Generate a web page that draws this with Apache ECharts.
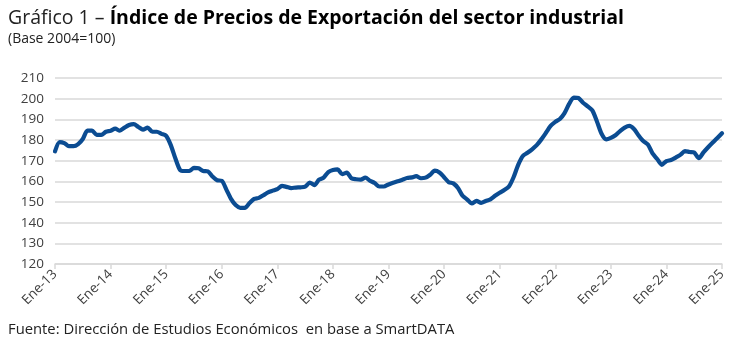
<!DOCTYPE html>
<html>
<head>
<meta charset="utf-8">
<script src="https://cdn.jsdelivr.net/npm/echarts@6/dist/echarts.min.js"></script>
<style>
html,body{margin:0;padding:0;background:#fff;}
#c{width:730px;height:345px;}
</style>
</head>
<body>
<div id="c"></div>
<script>
const monthNames = ['Ene','Feb','Mar','Abr','May','Jun','Jul','Ago','Sep','Oct','Nov','Dic'];
const years = ['13','14','15','16','17','18','19','20','21','22','23','24','25'];
const categories = [];
years.forEach(function(y, yi){
  monthNames.forEach(function(m, mi){
    if (yi < years.length - 1 || mi === 0) categories.push(m + '-' + y);
  });
});
const indexValues = [
  174.5,179,178.5,177,177,178,180.5,184.5,184.5,182.5,182.5,184,
  184.5,185.5,184.5,186,187.3,187.7,186.3,185,186,184,184,183,
  182,177.5,171,165.5,165,165,166.5,166.3,165,164.8,162.3,160.5,
  160.3,156,151.5,148.5,147.2,147.2,149.5,151.5,152,153.3,154.7,155.5,
  156.2,157.8,157.3,156.7,157,157.1,157.4,159.4,158.2,160.8,161.8,164.5,
  165.5,165.8,163.5,164.2,161.5,161,160.8,161.8,160.3,159.2,157.5,157.5,
  158.5,159.3,160,160.8,161.6,161.9,162.5,161.5,161.8,163.2,165.2,164.3,
  162,159.6,159,156.8,153,151.2,149.3,150.5,149.6,150.5,151.3,153,
  154.5,155.8,157.5,162,168,172.3,173.8,175.5,177.5,180.3,183.5,186.8,
  188.8,190.2,193,197.5,200.5,200.3,198,196.3,194.3,189,183,180.3,
  181,182.3,184.3,186,186.8,185.3,182.2,179.5,177.8,173.5,170.8,168,
  169.8,170.3,171.5,172.8,174.6,174.2,173.9,171.2,174,176.5,178.8,181,
  183.3
];
const yTicks = {min:120, max:210, step:10};
const titlePlain = 'Gráfico 1 – ';
const titleBold = 'Índice de Precios de Exportación del sector industrial';
const subtitle = '(Base 2004=100)';
const source = 'Fuente: Dirección de Estudios Económicos  en base a SmartDATA';

const FONT = '"Open Sans", sans-serif';
const chart = echarts.init(document.getElementById('c'), null, {renderer:'canvas'});
chart.setOption({
  backgroundColor:'#ffffff',
  animation:false,
  title:[{
    text:'{a|' + titlePlain + '}{b|' + titleBold + '}',
    left:3, top:3,
    textStyle:{
      rich:{
        a:{fontFamily:FONT, fontSize:19.5, fontWeight:'normal', color:'#222'},
        b:{fontFamily:FONT, fontSize:19.5, fontWeight:'bold', color:'#000'}
      }
    }
  },{
    text:subtitle, left:3, top:27,
    textStyle:{fontFamily:FONT, fontSize:14, fontWeight:'normal', color:'#222'}
  },{
    text:source, left:3, top:317,
    textStyle:{fontFamily:FONT, fontSize:14.8, fontWeight:'normal', color:'#222'}
  }],
  grid:{left:55, right:8, top:78, bottom:81, containLabel:false},
  xAxis:{
    type:'category',
    data:categories,
    boundaryGap:false,
    axisLine:{lineStyle:{color:'#d9d9d9', width:1.5}},
    axisTick:{show:true, length:5, lineStyle:{color:'#d9d9d9', width:1.5},
      interval:function(i){return i % 12 === 0;}},
    axisLabel:{rotate:45, interval:function(i){return i % 12 === 0;},
      fontFamily:FONT, fontSize:13.5, color:'#404040', margin:8},
    splitLine:{show:false}
  },
  yAxis:{
    type:'value',
    min:yTicks.min, max:yTicks.max, interval:yTicks.step,
    axisLine:{show:false},
    axisTick:{show:false},
    axisLabel:{fontFamily:FONT, fontSize:13.5, color:'#404040', margin:11},
    splitLine:{lineStyle:{color:'#d9d9d9', width:1.5}}
  },
  series:[{
    type:'line',
    data:indexValues,
    showSymbol:false,
    smooth:0.25,
    lineStyle:{color:'#0b4c92', width:4.2, cap:'round', join:'round'},
    itemStyle:{color:'#0b4c92'}
  }]
});
</script>
</body>
</html>
